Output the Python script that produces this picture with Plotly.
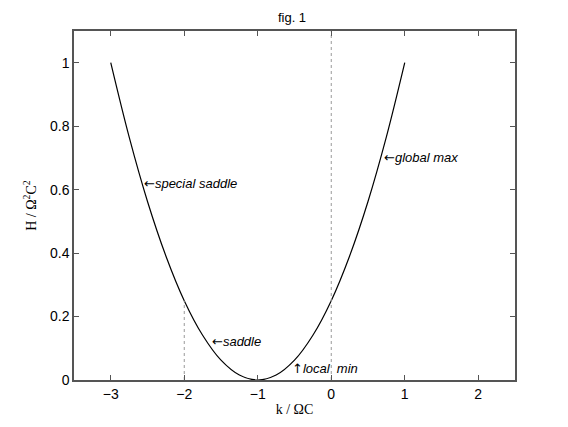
import plotly.graph_objects as go

k_vals = [-3, -2.75, -2.5, -2.25, -2, -1.75, -1.5, -1.25, -1, -0.75, -0.5, -0.25, 0, 0.25, 0.5, 0.75, 1]
h_vals = [1.0, 0.766, 0.5625, 0.391, 0.25, 0.141, 0.0625, 0.0156, 0.0, 0.0156, 0.0625, 0.141, 0.25, 0.391, 0.5625, 0.766, 1.0]

x_ticks = [-3, -2, -1, 0, 1, 2]
x_tick_labels = ["\u22123", "\u22122", "\u22121", "0", "1", "2"]
y_ticks = [0, 0.2, 0.4, 0.6, 0.8, 1]
y_tick_labels = ["0", "0.2", "0.4", "0.6", "0.8", "1"]

arrow_l = "<span style='font-family:DejaVu Sans'>\u2190</span>"
arrow_u = "<span style='font-family:DejaVu Sans'>\u2191</span>"
labels = [arrow_l + "<i>special saddle</i>", arrow_l + "<i>global max</i>",
          arrow_l + "<i>saddle</i>", arrow_u + "<i>local  min</i>"]
label_k = [-2.57, 0.69, -1.65, -0.56]
label_h = [0.62, 0.70, 0.12, 0.036]

fig = go.Figure()
fig.add_trace(go.Scatter(x=k_vals, y=h_vals, mode="lines",
                         line=dict(color="black", width=1.2, shape="spline"),
                         showlegend=False, hoverinfo="skip"))
# dotted guide lines
fig.add_trace(go.Scatter(x=[0, 0], y=[0, 1.1], mode="lines",
                         line=dict(color="#999999", width=1, dash="dot"),
                         showlegend=False, hoverinfo="skip"))
fig.add_trace(go.Scatter(x=[-2, -2], y=[0, 0.25], mode="lines",
                         line=dict(color="#999999", width=1, dash="dot"),
                         showlegend=False, hoverinfo="skip"))

for t, xk, yh in zip(labels, label_k, label_h):
    fig.add_annotation(x=xk, y=yh, text=t, showarrow=False, xanchor="left",
                       yanchor="middle", font=dict(family="Liberation Sans, Arial", size=13, color="black"))

axis_common = dict(showline=True, linecolor="#555555", linewidth=1.5, mirror="ticks",
                   ticks="inside", ticklen=5, tickcolor="#555555", showgrid=False, zeroline=False,
                   automargin=False,
                   tickfont=dict(family="Liberation Sans, Arial", size=14, color="black"))

fig.update_layout(
    width=552, height=411,
    paper_bgcolor="white", plot_bgcolor="white",
    margin=dict(l=66, r=45, t=23, b=39),
    title=dict(text="fig. 1", x=(292 - 8) / 552, xanchor="center", y=0.976, yanchor="middle",
               font=dict(family="Liberation Sans, Arial", size=13, color="black")),
    xaxis=dict(range=[-3.5, 2.5], tickvals=x_ticks, ticktext=x_tick_labels,
               title=dict(text="k / \u03a9C", standoff=4,
                          font=dict(family="Liberation Serif, Times New Roman", size=14, color="black")),
               **axis_common),
    yaxis=dict(range=[0, 1.1], tickvals=y_ticks, ticktext=y_tick_labels,
               title=dict(text="H / \u03a9<sup>2</sup>C<sup>2</sup>", standoff=10,
                          font=dict(family="Liberation Serif, Times New Roman", size=14, color="black")),
               **axis_common),
)

fig.write_html("out.html")
